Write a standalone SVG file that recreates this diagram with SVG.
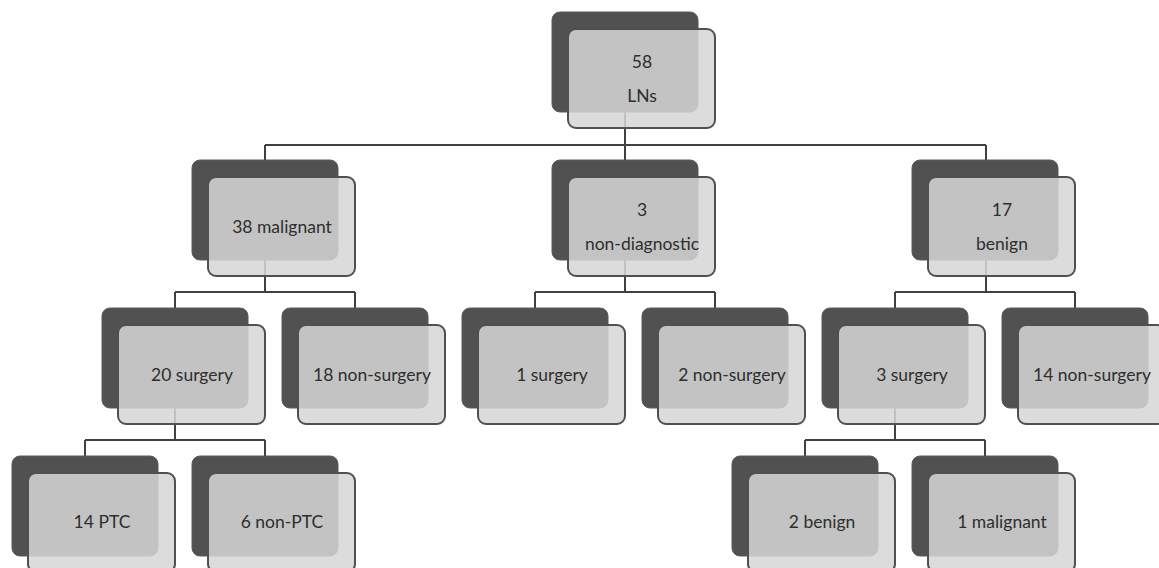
<svg xmlns="http://www.w3.org/2000/svg" xmlns:xlink="http://www.w3.org/1999/xlink" width="1159" height="568" viewBox="0 0 1159 568">
<style>
.back{fill:#515151;stroke:#5a5a5a;stroke-width:1}
.front{fill:rgb(214,214,214);fill-opacity:0.86;stroke:#505050;stroke-width:2}
.lbl{font-family:Lato,"Liberation Sans",sans-serif;font-size:17.5px;fill:#2e2e2e;text-anchor:middle}
.conn{fill:none;stroke:#404040;stroke-width:2}
</style>
<defs>
<g id="box">
<rect class="back" x="0" y="0" width="146" height="100" rx="8"/>
<rect class="front" x="16" y="17" width="147" height="99" rx="8"/>
</g>
</defs>
<rect width="1159" height="568" fill="#ffffff"/>
<g id="connectors">
<path class="conn" d="M625,112 V145 M265,145 H986 M265,145 V160 M625,145 V160 M986,145 V160"/>
<path class="conn" d="M265,258 V292 M175,292 H355 M175,292 V308 M355,292 V308"/>
<path class="conn" d="M625,258 V292 M535,292 H715 M535,292 V308 M715,292 V308"/>
<path class="conn" d="M986,258 V292 M895,292 H1075 M895,292 V308 M1075,292 V308"/>
<path class="conn" d="M175,406 V440 M85,440 H265 M85,440 V456 M265,440 V456"/>
<path class="conn" d="M895,406 V440 M805,440 H985 M805,440 V456 M985,440 V456"/>
</g>
<g id="n-root" transform="translate(552,12)"><use xlink:href="#box"/><text class="lbl" x="90" y="56">58</text><text class="lbl" x="90" y="90">LNs</text></g>
<g id="n-malignant" transform="translate(192,160)"><use xlink:href="#box"/><text class="lbl" x="90" y="73">38 malignant</text></g>
<g id="n-nondiag" transform="translate(552,160)"><use xlink:href="#box"/><text class="lbl" x="90" y="56">3</text><text class="lbl" x="90" y="90">non-diagnostic</text></g>
<g id="n-benign" transform="translate(912,160)"><use xlink:href="#box"/><text class="lbl" x="90" y="56">17</text><text class="lbl" x="90" y="90">benign</text></g>
<g id="n-m-surg" transform="translate(102,308)"><use xlink:href="#box"/><text class="lbl" x="90" y="73">20 surgery</text></g>
<g id="n-m-nonsurg" transform="translate(282,308)"><use xlink:href="#box"/><text class="lbl" x="90" y="73">18 non-surgery</text></g>
<g id="n-d-surg" transform="translate(462,308)"><use xlink:href="#box"/><text class="lbl" x="90" y="73">1 surgery</text></g>
<g id="n-d-nonsurg" transform="translate(642,308)"><use xlink:href="#box"/><text class="lbl" x="90" y="73">2 non-surgery</text></g>
<g id="n-b-surg" transform="translate(822,308)"><use xlink:href="#box"/><text class="lbl" x="90" y="73">3 surgery</text></g>
<g id="n-b-nonsurg" transform="translate(1002,308)"><use xlink:href="#box"/><text class="lbl" x="90" y="73">14 non-surgery</text></g>
<g id="n-ptc" transform="translate(12,456)"><use xlink:href="#box"/><text class="lbl" x="90" y="72">14 PTC</text></g>
<g id="n-nonptc" transform="translate(192,456)"><use xlink:href="#box"/><text class="lbl" x="90" y="72">6 non-PTC</text></g>
<g id="n-s-benign" transform="translate(732,456)"><use xlink:href="#box"/><text class="lbl" x="90" y="72">2 benign</text></g>
<g id="n-s-malignant" transform="translate(912,456)"><use xlink:href="#box"/><text class="lbl" x="90" y="72">1 malignant</text></g>
</svg>
